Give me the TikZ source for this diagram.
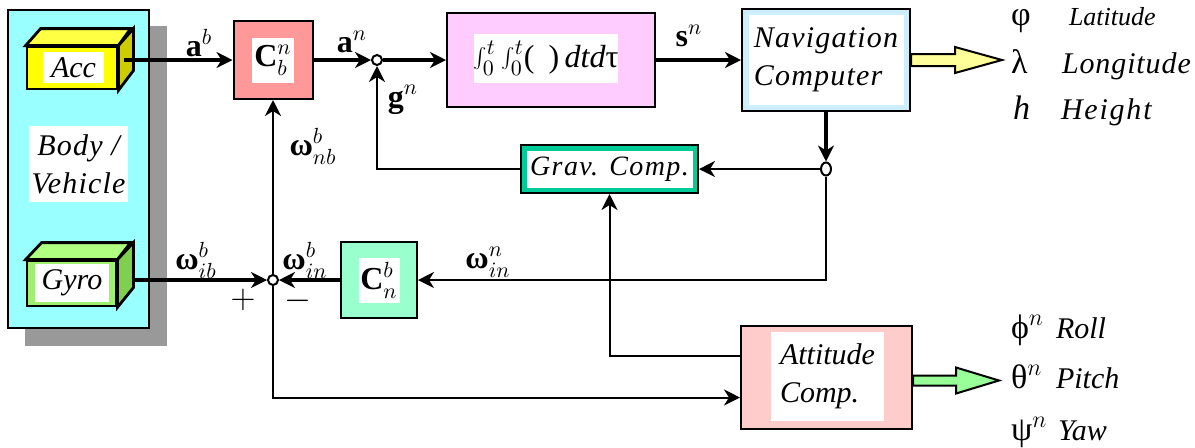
\documentclass[tikz,border=0pt]{standalone}
\usepackage{fontspec}
\setmainfont{Liberation Serif}[ItalicFont=* Italic, BoldFont=* Bold]
\usetikzlibrary{arrows.meta,shapes.geometric}

\definecolor{bodycyan}{HTML}{99FFFF}
\definecolor{shadowgray}{HTML}{999999}
\definecolor{accfront}{HTML}{FFFF00}
\definecolor{acctop}{HTML}{FFFF44}
\definecolor{accside}{HTML}{CCCC00}
\definecolor{gyrofront}{HTML}{A0F070}
\definecolor{gyrotop}{HTML}{B0FF80}
\definecolor{gyroside}{HTML}{80D050}
\definecolor{cbncol}{HTML}{FF9999}
\definecolor{intcol}{HTML}{FFCCFF}
\definecolor{navcol}{HTML}{CCEEFF}
\definecolor{gravcol}{HTML}{00CC99}
\definecolor{cnbcol}{HTML}{99FFCC}
\definecolor{attcol}{HTML}{FFCCCC}
\definecolor{outyellow}{HTML}{FFFF99}
\definecolor{outgreen}{HTML}{99FF99}

\begin{document}
\begin{tikzpicture}[x=0.5pt, y=-0.5pt, line width=1pt,
    >={Stealth[length=8pt,width=8pt,inset=2.5pt]},
    blk/.style={draw, line width=1pt, inner sep=0pt},
    lab/.style={fill=white, inner sep=0pt, align=center},
    sig/.style={->, line width=1.6pt},
    fb/.style={->, line width=1pt},
    sumpt/.style={circle, draw, fill=white, line width=1pt, minimum size=5pt, inner sep=0pt},
    mlab/.style={inner sep=0pt, font=\fontsize{16}{18}\selectfont},
    itl/.style={font=\itshape\fontsize{15}{19}\selectfont},
    outtxt/.style={inner sep=0pt, anchor=base west, font=\itshape\fontsize{15}{18}\selectfont},
    outsym/.style={inner sep=0pt, anchor=base west, font=\fontsize{17}{18}\selectfont},
    box3d/.style={draw, line width=1.4pt}]
    \useasboundingbox (0,0) rectangle (1195,447);

    % 1. Thân xe và bóng đổ
    \fill[shadowgray] (25,26) rectangle (167,346);
    \draw[fill=bodycyan] (8,10) rectangle (149,328);
    \node[lab, itl, minimum width=49.5pt, minimum height=38pt] (body) at (78.5,164)
        {\addfontfeature{LetterSpace=4}Body /\\\addfontfeature{LetterSpace=4}Vehicle};

    % 2. Cảm biến (hộp 3D)
    \node[box3d, fill=accfront, inner sep=0pt, minimum width=45pt, minimum height=21pt] (acc) at (72,68) {};
    \draw[box3d, fill=acctop] (acc.north west) -- ++(15,-17) -- ++(90,0) -- (acc.north east) -- cycle;
    \draw[box3d, fill=accside] (acc.north east) -- ++(15,-17) -- ++(0,42) -- (acc.south east) -- cycle;
    \node[lab, itl, minimum width=30.5pt, minimum height=15.5pt] (acc-t) at (73.5,67.5) {Acc};

    \node[box3d, fill=gyrofront, inner sep=0pt, minimum width=44.5pt, minimum height=22.5pt] (gyro) at (71.5,283.5) {};
    \draw[box3d, fill=gyrotop] (gyro.north west) -- ++(16,-17) -- ++(89,0) -- (gyro.north east) -- cycle;
    \draw[box3d, fill=gyroside] (gyro.north east) -- ++(16,-17) -- ++(0,45) -- (gyro.south east) -- cycle;
    \node[lab, itl, minimum width=37pt, minimum height=19pt] (gyro-t) at (72,283) {Gyro};

    % 3. Các khối xử lý
    \node[blk, fill=cbncol, minimum width=39.5pt, minimum height=39pt] (cbn) at (273,60) {};
    \node[lab, mlab, minimum width=21pt, minimum height=22.5pt] (cbn-t) at (cbn) {\textbf{C}$^{n}_{b}$};

    \node[sumpt] (s1) at (377,60) {};

    \node[blk, fill=intcol, minimum width=104pt, minimum height=47pt] (intg) at (551,60) {};
    \node[lab, mlab, minimum width=67pt, minimum height=24.5pt] (intg-t) at (546,58.5)
        {$\int_0^t\int_0^t$(\;\,)\,\textit{dtd}τ};

    \node[blk, fill=navcol, minimum width=84pt, minimum height=51pt] (nav) at (826,60) {};
    \node[lab, itl, align=left, minimum width=77.5pt, minimum height=45pt] (nav-t) at (nav)
        {\addfontfeature{LetterSpace=4}Navigation\\\addfontfeature{LetterSpace=4}Computer};

    \node[ellipse, draw, fill=white, minimum width=5pt, minimum height=6.5pt, inner sep=0pt] (j3) at (826,169) {};

    \node[blk, fill=gravcol, minimum width=88.5pt, minimum height=24pt] (grav) at (609.5,169) {};
    \node[lab, minimum width=83pt, minimum height=18.5pt, font=\itshape\fontsize{14}{16}\selectfont] (grav-t) at (grav)
        {\addfontfeature{LetterSpace=5}Grav. Comp.};

    \node[blk, fill=cnbcol, minimum width=38pt, minimum height=38pt] (cnb) at (379,280) {};
    \node[lab, mlab, minimum width=20.5pt, minimum height=22.5pt] (cnb-t) at (cnb) {\textbf{C}$^{b}_{n}$};

    \node[sumpt] (s2) at (273,280) {};

    \node[blk, fill=attcol, minimum width=85.5pt, minimum height=51.5pt] (att) at (826.5,377.5) {};
    \node[lab, itl, align=left, minimum width=56.5pt, minimum height=44.5pt] (att-t) at (827.5,376.5)
        {Attitude\\Comp.};

    % 4. Đường tín hiệu
    \draw[sig] ([xshift=3pt,yshift=4pt]acc.east) -- (cbn.west);
    \draw[sig] (cbn.east) -- (s1.west);
    \draw[sig] (s1.east) -- (intg.west);
    \draw[sig] (intg.east) -- (nav.west);
    \draw[sig] (nav.south) -- (j3.north);
    \draw[fb] (j3.west) -- (grav.east);
    \draw[fb] (grav.west) -| (s1.south);
    \draw[fb] (j3.south) |- (cnb.east);
    \draw[sig] (cnb.west) -- (s2.east);
    \draw[sig] ([xshift=8pt,yshift=1.75pt]gyro.east) -- (s2.west);
    \draw[fb] (s2.north) -- (cbn.south);
    \draw[fb] (s2.south) |- ([yshift=-10pt]att.west);
    \draw[fb] ([yshift=10.75pt]att.west) -| (grav.south);

    % 5. Mũi tên đầu ra
    \draw[fill=outyellow] ([yshift=3pt]nav.east) -- ++(44,0) -- ++(0,-7) -- ++(47,13)
        -- ++(-47,13) -- ++(0,-7) -- ++(-44,0) -- cycle;
    \draw[fill=outgreen] ([yshift=1pt]att.east) -- ++(43,0) -- ++(0,-8) -- ++(43,13)
        -- ++(-43,13) -- ++(0,-8) -- ++(-43,0) -- cycle;

    % 6. Nhãn tín hiệu
    \node[mlab] (l-ab) at (199,43) {\textbf{a}$^{b}$};
    \node[mlab] (l-an) at (352,42) {\textbf{a}$^{n}$};
    \node[mlab] (l-sn) at (689,36) {\textbf{s}$^{n}$};
    \node[mlab] (l-gn) at (403,100) {\textbf{g}$^{n}$};
    \node[mlab] (l-wnb) at (313,146) {\textbf{ω}$^{b}_{nb}$};
    \node[mlab] (l-wib) at (196,260) {\textbf{ω}$^{b}_{ib}$};
    \node[mlab] (l-win) at (305,260) {\textbf{ω}$^{b}_{in}$};
    \node[mlab] (l-wnn) at (488,262) {\textbf{ω}$^{n}_{in}$};
    \node[mlab] (l-plus) at (243,300) {$+$};
    \node[mlab] (l-minus) at (298,301) {$-$};

    % 7. Đầu ra
    \node[outsym] (o-phi) at (1010,25) {φ};
    \node[outtxt, font=\itshape\fontsize{13}{15}\selectfont] (o-lat) at (1068,25) {Latitude};
    \node[outsym] (o-lam) at (1010,73) {λ};
    \node[outtxt] (o-lon) at (1061,73) {\addfontfeature{LetterSpace=3}Longitude};
    \node[outsym, font=\itshape\fontsize{17}{18}\selectfont] (o-h) at (1012,119) {h};
    \node[outtxt] (o-hgt) at (1060,119) {\addfontfeature{LetterSpace=6}Height};
    \node[outsym] (o-roll) at (1010,338) {ϕ$^{n}$};
    \node[outtxt] (o-rl) at (1055,338) {Roll};
    \node[outsym] (o-pitch) at (1010,388) {θ$^{n}$};
    \node[outtxt] (o-pt) at (1055,388) {Pitch};
    \node[outsym] (o-yaw) at (1010,440) {ψ$^{n}$};
    \node[outtxt] (o-yw) at (1057,440) {Yaw};
\end{tikzpicture}
\end{document}
